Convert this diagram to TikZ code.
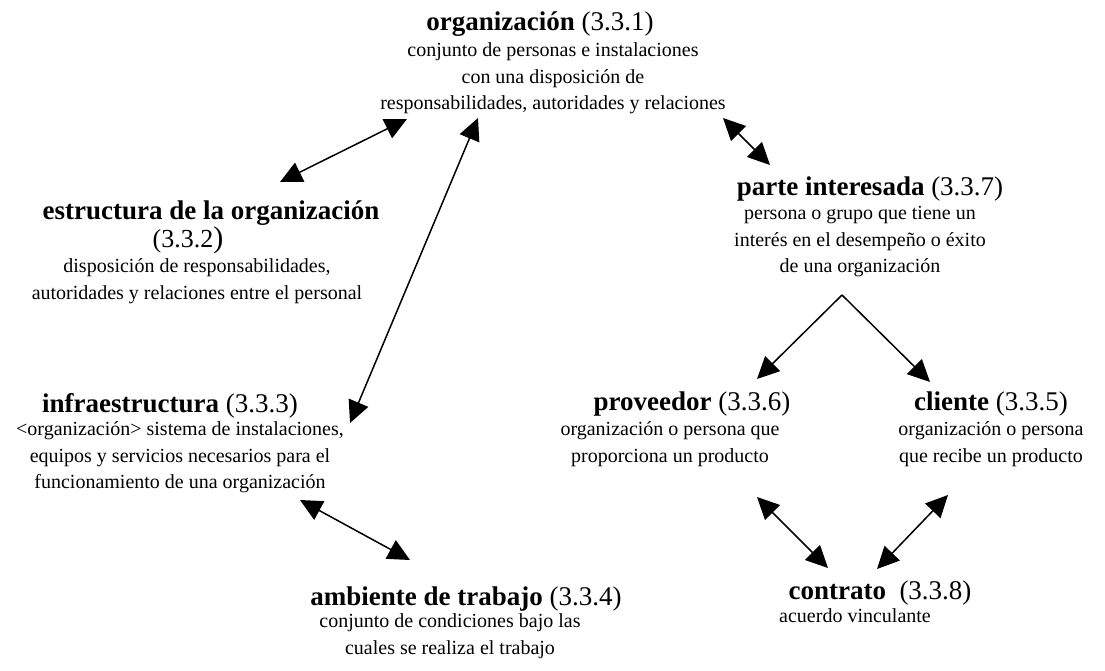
\documentclass[tikz,border=0pt]{standalone}
\usepackage{fontspec}
\setmainfont{Liberation Serif}
\usetikzlibrary{arrows.meta, positioning}
\newcommand{\termnum}[1]{\textmd{#1}}

\begin{document}
\begin{tikzpicture}[x=1pt, y=-1pt,
  term/.style={inner sep=0pt, anchor=base, font=\fontsize{27}{30}\selectfont\bfseries},
  defn/.style={inner sep=0pt, anchor=north, align=center, font=\fontsize{20}{26.5}\selectfont},
  arrow/.style={-{Triangle[length=22pt, width=21pt]}, line width=1.5pt},
  biarrow/.style={{Triangle[length=22pt, width=21pt]}-{Triangle[length=22pt, width=21pt]}, line width=1.5pt}
]
  \useasboundingbox (0,0) rectangle (1105,671);

  % Terms
  \node[term] (org) at (540,31) {organización \termnum{(3.3.1)}};
  \node[defn] (orgdef) at (553,38) {\strut conjunto de personas e instalaciones\\con una disposición de\\responsabilidades, autoridades y relaciones};

  \node[term] (estr) at (211,219) {estructura de la organización};
  \node[term, font=\fontsize{26}{30}\selectfont] (estrnum) at (188,247) {(3.3.2{\fontsize{30}{34}\selectfont)}};
  \node[defn] (estrdef) at (197,254) {\strut disposición de responsabilidades,\\autoridades y relaciones entre el personal};

  \node[term] (infra) at (170,412) {infraestructura \termnum{(3.3.3)}};
  \node[defn] (infradef) at (180,417) {\strut <organización> sistema de instalaciones,\\equipos y servicios necesarios para el\\funcionamiento de una organización};

  \node[term] (amb) at (466,605) {ambiente de trabajo \termnum{(3.3.4)}};
  \node[defn] (ambdef) at (450,609) {\strut conjunto de condiciones bajo las\\cuales se realiza el trabajo};

  \node[term] (parte) at (870,196) {parte interesada \termnum{(3.3.7)}};
  \node[defn] (partedef) at (860,201) {\strut persona o grupo que tiene un\\interés en el desempeño o éxito\\de una organización};

  \node[term] (prov) at (692,410) {proveedor \termnum{(3.3.6)}};
  \node[defn] (provdef) at (670,417) {\strut organización o persona que\\proporciona un producto};

  \node[term] (cli) at (991,410) {cliente \termnum{(3.3.5)}};
  \node[defn] (clidef) at (991,417) {\strut organización o persona\\que recibe un producto};

  \node[term] (contr) at (880,599) {contrato\ \ \termnum{(3.3.8)}};
  \node[defn, anchor=north west] (contrdef) at (779,604) {\strut acuerdo vinculante};

  % Arrow ends
  \coordinate (estrtop) at (280,182);
  \coordinate (orgleft) at (407,119);
  \coordinate (orgmid) at (478,118);
  \coordinate (infraright) at (350,423);
  \coordinate (orgright) at (723,118);
  \coordinate (partetop) at (770,165);
  \coordinate (fork) at (842,295);
  \coordinate (provtop) at (757,379);
  \coordinate (clitop) at (930,382);
  \coordinate (provbot) at (757,497);
  \coordinate (clibot) at (948,495);
  \coordinate (contrleft) at (828,568);
  \coordinate (contrright) at (877,569);
  \coordinate (infrabot) at (300,500);
  \coordinate (ambtop) at (410,560);

  \draw[biarrow] (estrtop) -- (orgleft);
  \draw[biarrow] (infraright) -- (orgmid);
  \draw[biarrow] (orgright) -- (partetop);
  \draw[arrow] (fork) -- (provtop);
  \draw[arrow] (fork) -- (clitop);
  \draw[biarrow] (provbot) -- (contrleft);
  \draw[biarrow] (clibot) -- (contrright);
  \draw[biarrow] (infrabot) -- (ambtop);
\end{tikzpicture}
\end{document}
